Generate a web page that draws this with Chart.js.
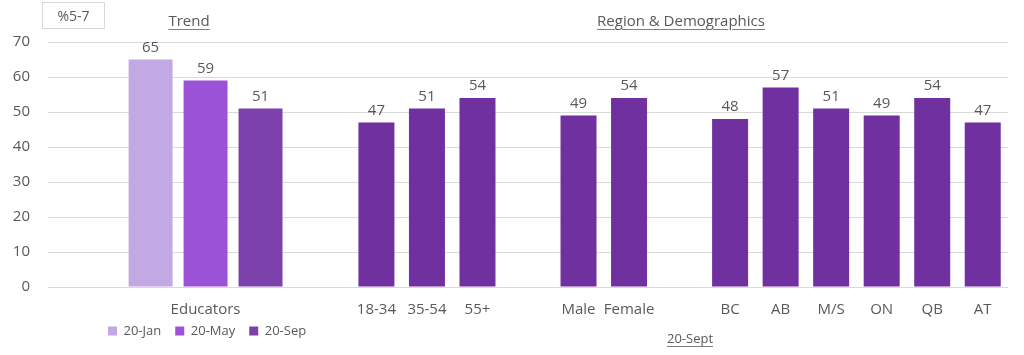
<!DOCTYPE html>
<html><head><meta charset="utf-8">
<script src="https://cdn.jsdelivr.net/npm/chart.js@4.4.0/dist/chart.umd.min.js"></script>
<style>
html,body{margin:0;padding:0;background:#fff;}
#wrap{position:relative;width:1024px;height:355px;overflow:hidden;}
canvas{position:absolute;left:0;top:0;}
.t{position:absolute;font-family:'Open Sans',sans-serif;color:#595959;white-space:nowrap;transform:translateX(-50%);text-decoration:underline;text-decoration-color:#7f7f7f;text-underline-offset:3px;line-height:20px;}
#badge{position:absolute;left:42px;top:2px;width:61px;height:25px;border:1px solid #D9D9D9;font-family:'Open Sans',sans-serif;font-size:14px;color:#595959;text-align:center;line-height:25px;}
</style></head><body>
<div id="wrap">
<canvas id="c" width="1024" height="355"></canvas>
<div id="badge">%5-7</div>
<div class="t" style="left:189px;top:10px;font-size:15px;">Trend</div>
<div class="t" style="left:681px;top:10px;font-size:15px;">Region &amp; Demographics</div>
<div class="t" style="left:690px;top:328px;font-size:13px;">20-Sept</div>
</div>
<script>
// ---- data ----
const trendCategory = ['Educators'];
const trendSeries = ['20-Jan', '20-May', '20-Sep'];
const trendJan = [65];
const trendMay = [59];
const trendSep = [51];

const ageLabels = ['18-34', '35-54', '55+'];
const ageValues = [47, 51, 54];
const genderLabels = ['Male', 'Female'];
const genderValues = [49, 54];
const regionLabels = ['BC', 'AB', 'M/S', 'ON', 'QB', 'AT'];
const regionValues = [48, 57, 51, 49, 54, 47];

const yTicks = [0, 10, 20, 30, 40, 50, 60, 70];

// ---- build category axes (blank slots separate the groups) ----
const lead = 6;
const demoLabels = [];
const demoValues = [];
for (let i = 0; i < lead; i++) { demoLabels.push(''); demoValues.push(null); }
[[ageLabels, ageValues], [genderLabels, genderValues], [regionLabels, regionValues]].forEach((g, gi) => {
  if (gi > 0) { demoLabels.push(''); demoValues.push(null); }
  g[0].forEach((l, i) => { demoLabels.push(l); demoValues.push(g[1][i]); });
});
const trendAxisLabels = trendCategory.concat(['']);

const textGray = '#595959';
const colors = ['#C3A9E3', '#9B52D6', '#7D41AC'];
const demoColor = '#7030A0';
const tickFontSize = 15;
const tickPad = 14;

const valueLabels = {
  id: 'valueLabels',
  afterDatasetsDraw(chart) {
    const ctx = chart.ctx;
    ctx.save();
    ctx.font = tickFontSize + 'px "Open Sans"';
    ctx.fillStyle = textGray;
    ctx.textAlign = 'center';
    ctx.textBaseline = 'alphabetic';
    chart.data.datasets.forEach((ds, i) => {
      const meta = chart.getDatasetMeta(i);
      meta.data.forEach((el, j) => {
        const v = ds.data[j];
        if (v === null || v === undefined) return;
        ctx.fillText(String(v), el.x, el.y - 8);
      });
    });
    // category label of the trend group, centred under its middle bar
    const mid = chart.getDatasetMeta(1).data[0];
    const xs = chart.scales.x;
    ctx.textBaseline = 'middle';
    ctx.fillText(trendCategory[0], mid.x, xs.top + tickPad + tickFontSize * 1.2 / 2);
    ctx.restore();
  }
};

const legendPlace = {
  id: 'legendPlace',
  afterLayout(chart) {
    const l = chart.legend;
    if (!l) return;
    const w = l.right - l.left, h = l.bottom - l.top;
    l.left = 94; l.right = 94 + w;
    l.top = 331 - 14 - 6.5; l.bottom = l.top + h;
  }
};

const tickFont = { family: 'Open Sans', size: tickFontSize };

new Chart(document.getElementById('c'), {
  type: 'bar',
  data: {
    labels: demoLabels,
    datasets: [
      { label: trendSeries[0], data: trendJan, xAxisID: 'x2', backgroundColor: colors[0], categoryPercentage: 0.687, barPercentage: 0.80 },
      { label: trendSeries[1], data: trendMay, xAxisID: 'x2', backgroundColor: colors[1], categoryPercentage: 0.687, barPercentage: 0.80 },
      { label: trendSeries[2], data: trendSep, xAxisID: 'x2', backgroundColor: colors[2], categoryPercentage: 0.687, barPercentage: 0.80 },
      { label: 'demo', data: demoValues, xAxisID: 'x', backgroundColor: demoColor, grouped: false, categoryPercentage: 1, barPercentage: 0.7125 }
    ]
  },
  options: {
    responsive: false,
    animation: false,
    layout: { padding: { top: 42, right: 16, bottom: 0, left: 0 } },
    plugins: {
      legend: {
        position: 'bottom',
        align: 'start',
        maxHeight: 36,
        labels: {
          filter: (item) => item.datasetIndex < 3,
          boxWidth: 9, boxHeight: 9, padding: 14,
          color: textGray,
          font: { family: 'Open Sans', size: 13 }
        }
      },
      tooltip: { enabled: false }
    },
    scales: {
      x2: {
        type: 'category',
        labels: trendAxisLabels,
        position: 'bottom',
        display: false
      },
      x: {
        type: 'category',
        position: 'bottom',
        grid: { display: false, drawTicks: false },
        border: { display: false },
        ticks: { color: textGray, font: tickFont, padding: tickPad, autoSkip: false, maxRotation: 0 },
        afterFit: (s) => { s.height = 32; }
      },
      y: {
        min: 0, max: 70,
        afterBuildTicks: (s) => { s.ticks = yTicks.map(v => ({ value: v })); },
        grid: { color: '#D9D9D9', drawTicks: false },
        border: { display: false },
        ticks: { color: textGray, font: tickFont, padding: 18 },
        afterFit: (s) => { s.width = 48; }
      }
    }
  },
  plugins: [valueLabels, legendPlace]
});
</script>
</body></html>
